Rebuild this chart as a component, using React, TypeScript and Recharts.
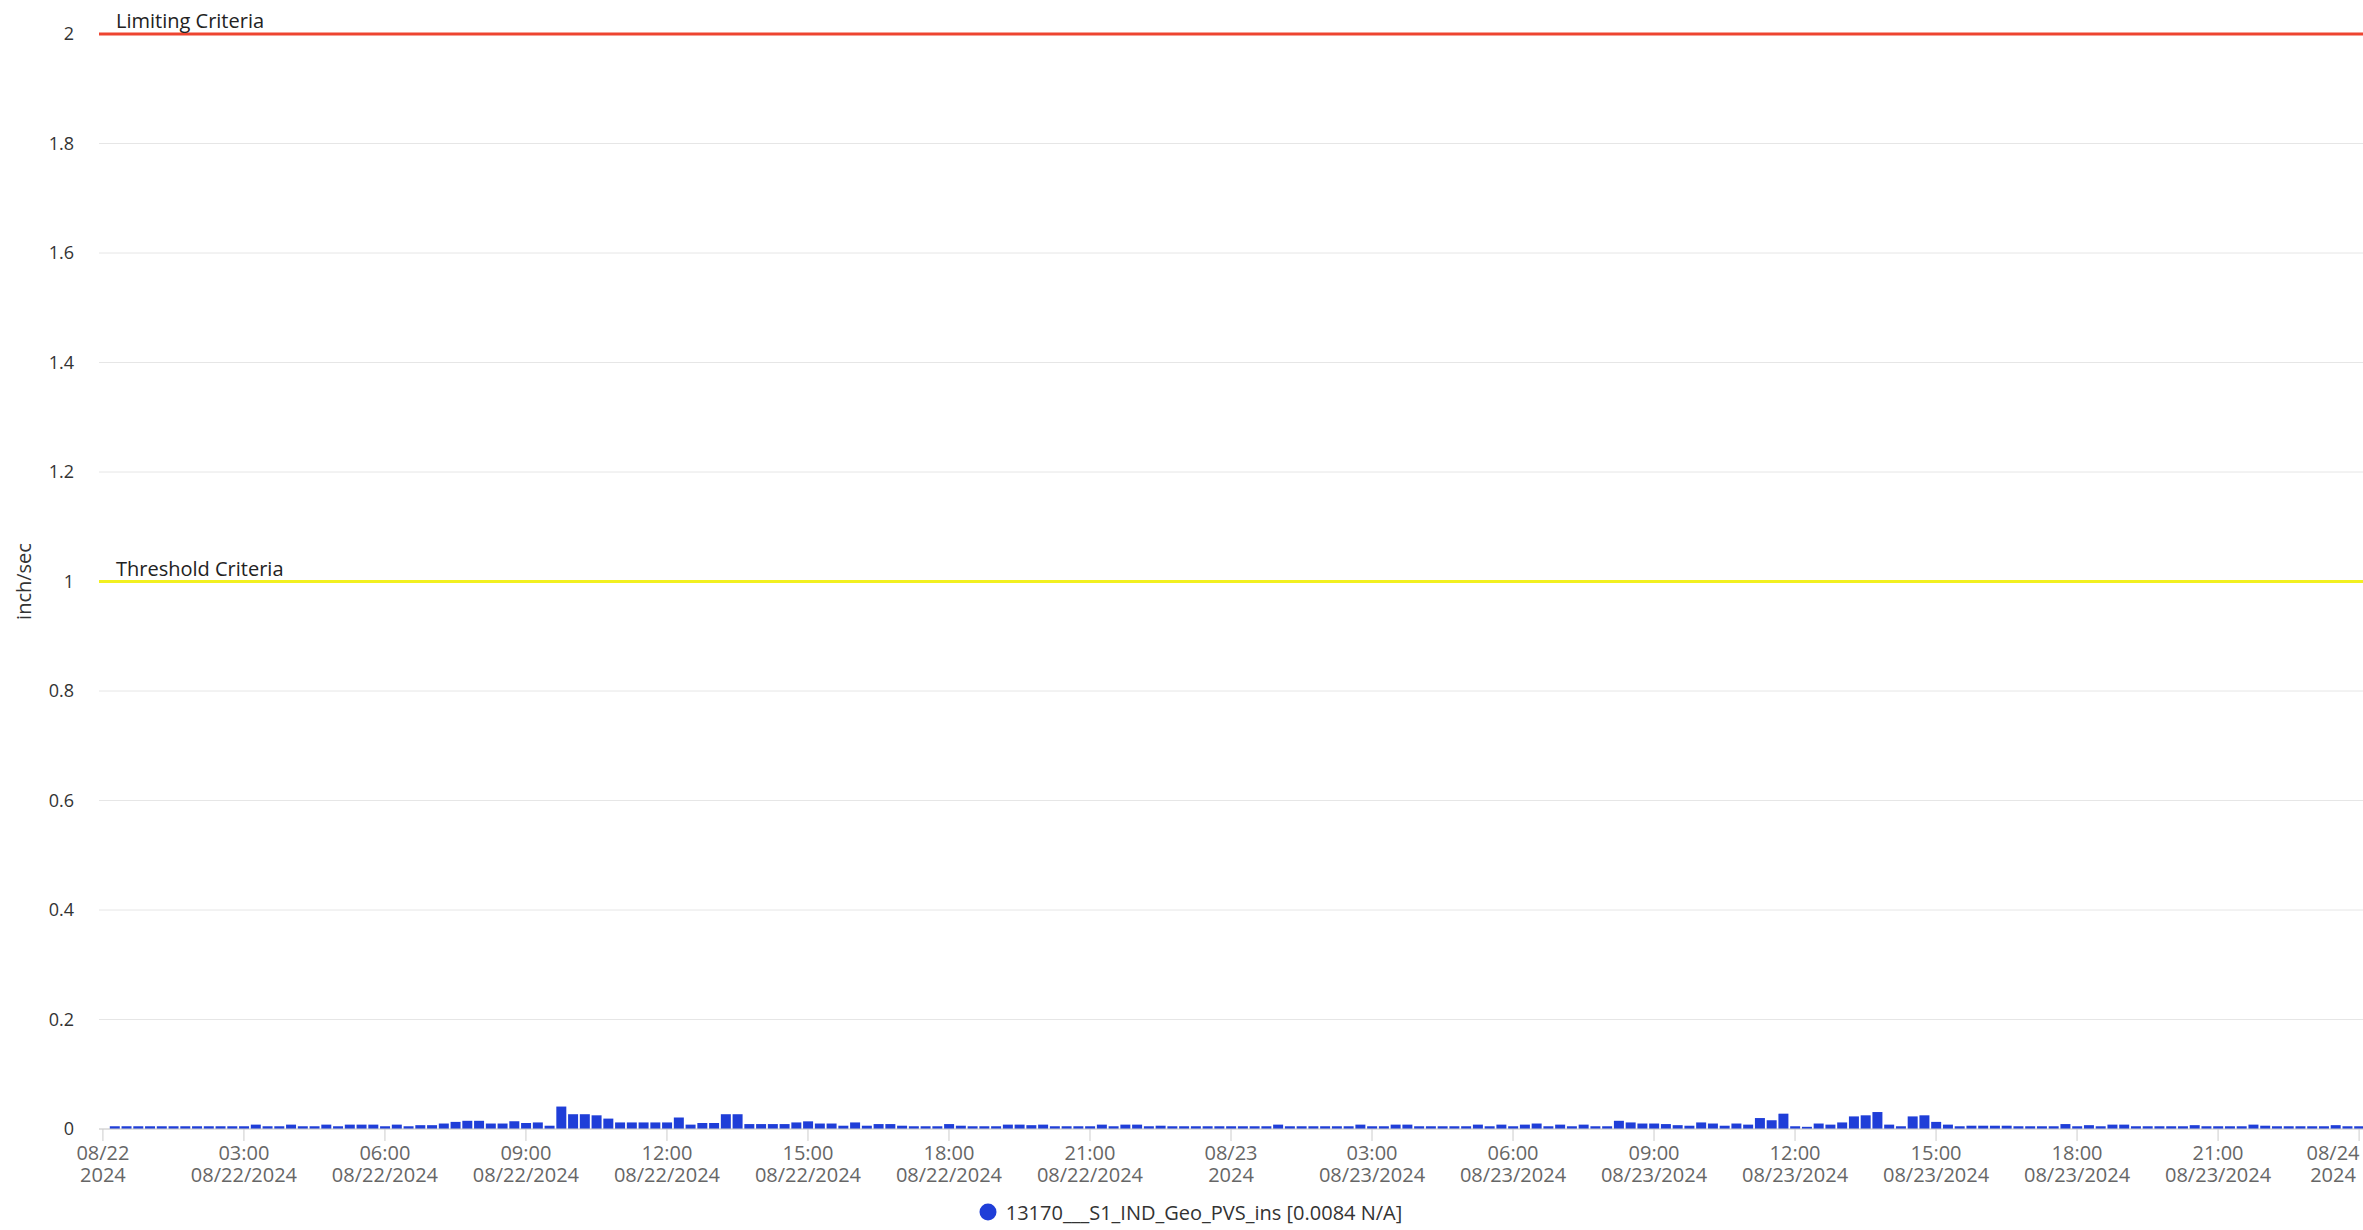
import { BarChart, Bar, XAxis, YAxis, CartesianGrid, ReferenceLine, Legend } from "recharts"

const FONT = "'Open Sans', 'DejaVu Sans', sans-serif"
const BAR_COLOR = "#1f3ed8"
const CHART_W = 2363

// 15 minute readings, 08/22 00:15 -> 08/23 24:00 (4 per hour)
const day1Values = [
  0.005, 0.005, 0.005, 0.005,
  0.005, 0.005, 0.005, 0.005,
  0.005, 0.005, 0.005, 0.005,
  0.008, 0.005, 0.005, 0.008,
  0.005, 0.005, 0.008, 0.005,
  0.008, 0.008, 0.008, 0.005,
  0.008, 0.005, 0.007, 0.007,
  0.01, 0.013, 0.015, 0.015,
  0.01, 0.01, 0.014, 0.011,
  0.012, 0.006, 0.041, 0.027,
  0.027, 0.025, 0.019, 0.012,
  0.012, 0.012, 0.012, 0.012,
  0.021, 0.008, 0.011, 0.011,
  0.027, 0.027, 0.009, 0.009,
  0.009, 0.009, 0.012, 0.014,
  0.01, 0.01, 0.006, 0.012,
  0.006, 0.009, 0.009, 0.006,
  0.005, 0.005, 0.005, 0.009,
  0.006, 0.005, 0.005, 0.005,
  0.008, 0.008, 0.007, 0.008,
  0.005, 0.005, 0.005, 0.005,
  0.008, 0.005, 0.008, 0.008,
  0.005, 0.006, 0.005, 0.005,
  0.005, 0.005, 0.005, 0.005,
]

const day2Values = [
  0.005, 0.005, 0.005, 0.008,
  0.005, 0.005, 0.005, 0.005,
  0.005, 0.005, 0.008, 0.005,
  0.005, 0.008, 0.008, 0.005,
  0.005, 0.005, 0.005, 0.005,
  0.008, 0.005, 0.008, 0.005,
  0.008, 0.01, 0.005, 0.008,
  0.005, 0.008, 0.005, 0.005,
  0.015, 0.012, 0.01, 0.01,
  0.009, 0.007, 0.006, 0.012,
  0.01, 0.006, 0.01, 0.008,
  0.02, 0.016, 0.028, 0.005,
  0.004, 0.01, 0.008, 0.012,
  0.023, 0.025, 0.031, 0.008,
  0.005, 0.023, 0.025, 0.013,
  0.008, 0.005, 0.006, 0.006,
  0.006, 0.006, 0.005, 0.005,
  0.005, 0.005, 0.009, 0.005,
  0.007, 0.005, 0.008, 0.008,
  0.005, 0.005, 0.005, 0.005,
  0.005, 0.007, 0.005, 0.005,
  0.005, 0.005, 0.008, 0.006,
  0.005, 0.005, 0.005, 0.005,
  0.005, 0.007, 0.005, 0.005,
]

// x ticks, minutes from 08/22 00:00
const tickMinutes = [0, 180, 360, 540, 720, 900, 1080, 1260, 1440, 1620, 1800, 1980, 2160, 2340, 2520, 2700, 2880]
const tickTop = ["08/22", "03:00", "06:00", "09:00", "12:00", "15:00", "18:00", "21:00", "08/23", "03:00", "06:00", "09:00", "12:00", "15:00", "18:00", "21:00", "08/24"]
const tickBottom = ["2024", "08/22/2024", "08/22/2024", "08/22/2024", "08/22/2024", "08/22/2024", "08/22/2024", "08/22/2024", "2024", "08/23/2024", "08/23/2024", "08/23/2024", "08/23/2024", "08/23/2024", "08/23/2024", "08/23/2024", "2024"]

const yTicks = [0, 0.2, 0.4, 0.6, 0.8, 1, 1.2, 1.4, 1.6, 1.8, 2]

const seriesName = "13170___S1_IND_Geo_PVS_ins"
const legendValue = "[0.0084 N/A]"

const data = [...day1Values, ...day2Values].map((v, i) => ({ t: (i + 1) * 15, value: v }))

const TimeTick = ({ x, y, payload }: any) => {
  const i = tickMinutes.indexOf(payload.value)
  // keep the last label inside the chart, like the original does
  const cx = Math.min(x, CHART_W - 30)
  return (
    <text x={cx} y={y} textAnchor="middle" fill="#666" fontSize={20} fontFamily={FONT}>
      <tspan x={cx} dy={17}>{tickTop[i]}</tspan>
      <tspan x={cx} dy={22}>{tickBottom[i]}</tspan>
    </text>
  )
}

const LegendContent = () => (
  <div
    style={{
      height: 24,
      display: "flex",
      justifyContent: "center",
      alignItems: "center",
      fontFamily: FONT,
      fontSize: 20,
      color: "#333",
      paddingLeft: 18,
    }}
  >
    <svg width={18} height={18}>
      <circle cx={9} cy={9} r={8.5} fill={BAR_COLOR} />
    </svg>
    <span style={{ marginLeft: 9 }}>
      {seriesName} {legendValue}
    </span>
  </div>
)

const lineLabel = (text: string) => (props: any) => {
  const vb = props.viewBox
  return (
    <text x={vb.x + 17} y={vb.y - 6} fill="#222" fontSize={20} fontFamily={FONT}>
      {text}
    </text>
  )
}

const AxisTitle = (props: any) => {
  const vb = props.viewBox
  const cy = vb.y + vb.height / 2
  return (
    <text x={23} y={cy} transform={`rotate(-90 23 ${cy})`} textAnchor="middle" dominantBaseline="central" fill="#333" fontSize={20} fontFamily={FONT}>
      inch/sec
    </text>
  )
}

export default function App() {
  return (
    <div style={{ position: "fixed", left: 0, top: 0, width: CHART_W, height: 1230, background: "#fff" }}>
      <BarChart width={CHART_W} height={1230} data={data} margin={{ top: 34, right: 0, bottom: 6, left: 0 }}>
        <CartesianGrid vertical={false} stroke="#e6e6e6" />
        <XAxis
          type="number"
          dataKey="t"
          domain={[-5, 2885]}
          ticks={tickMinutes}
          interval={0}
          height={71}
          tickSize={12}
          tickLine={{ stroke: "#ccc" }}
          axisLine={{ stroke: "#ccc" }}
          tick={<TimeTick />}
        />
        <YAxis
          domain={[0, 2]}
          ticks={yTicks}
          width={99}
          tickSize={0}
          tickMargin={25}
          axisLine={false}
          tickLine={false}
          tick={{ fill: "#333", fontSize: 18, fontFamily: FONT }}
          tickFormatter={(v: number) => String(v)}
          label={{ content: <AxisTitle /> }}
        />
        <Bar dataKey="value" name={seriesName} fill={BAR_COLOR} barSize={10} isAnimationActive={false} />
        <ReferenceLine y={2} stroke="#ee4430" strokeWidth={3} label={{ content: lineLabel("Limiting Criteria") }} />
        <ReferenceLine y={1} stroke="#f2f020" strokeWidth={3} label={{ content: lineLabel("Threshold Criteria") }} />
        <Legend verticalAlign="bottom" height={24} content={<LegendContent />} />
      </BarChart>
    </div>
  )
}
